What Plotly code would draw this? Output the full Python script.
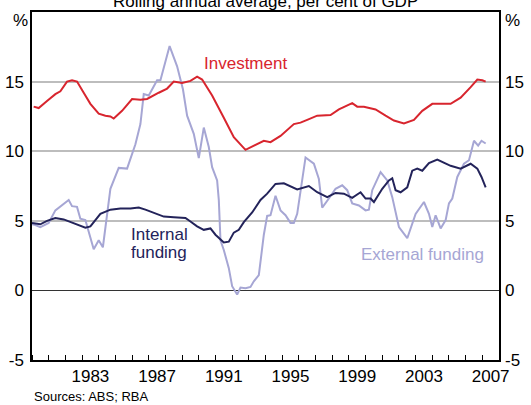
import plotly.graph_objects as go

# decimal-year positions and % of GDP
inv_dates = [1980.1, 1980.4, 1980.9, 1981.4, 1981.7, 1982.1, 1982.4, 1982.7, 1983.1, 1983.5,
             1984.0, 1984.4, 1984.7, 1984.9, 1985.4, 1986.0, 1986.5, 1986.9, 1987.6, 1988.1,
             1988.5, 1989.0, 1989.5, 1989.9, 1990.2, 1990.8, 1991.5, 1992.1, 1992.8, 1993.3,
             1993.9, 1994.3, 1994.9, 1995.7, 1996.1, 1996.5, 1997.1, 1997.9, 1998.4, 1999.2,
             1999.5, 1999.9, 2000.6, 2001.2, 2001.7, 2002.3, 2002.9, 2003.4, 2004.0, 2005.1,
             2005.7, 2006.3, 2006.7, 2007.0, 2007.2]
investment = [13.2, 13.1, 13.6, 14.1, 14.3, 15.0, 15.1, 15.0, 14.2, 13.4,
              12.7, 12.55, 12.5, 12.35, 12.9, 13.75, 13.7, 13.75, 14.2, 14.5,
              15.0, 14.9, 15.05, 15.35, 15.15, 14.0, 12.4, 11.0, 10.1, 10.4,
              10.75, 10.65, 11.1, 11.95, 12.05, 12.25, 12.55, 12.6, 13.0, 13.45,
              13.2, 13.2, 13.0, 12.55, 12.2, 12.0, 12.25, 12.9, 13.4, 13.4,
              13.85, 14.6, 15.15, 15.1, 15.0]

int_dates = [1980.0, 1980.2, 1980.5, 1980.9, 1981.4, 1981.9, 1982.5, 1983.2, 1983.5, 1984.1,
             1984.7, 1985.3, 1985.9, 1986.4, 1986.8, 1987.4, 1987.9, 1988.5, 1989.2, 1989.5,
             1989.9, 1990.3, 1990.7, 1991.0, 1991.2, 1991.5, 1991.8, 1992.1, 1992.4, 1992.7,
             1993.2, 1993.7, 1994.1, 1994.6, 1995.1, 1995.9, 1996.6, 1997.1, 1997.7, 1998.2,
             1998.7, 1999.2, 1999.7, 2000.0, 2000.3, 2000.5, 2001.0, 2001.4, 2001.6, 2001.8,
             2002.1, 2002.5, 2002.8, 2003.1, 2003.4, 2003.8, 2004.3, 2004.7, 2005.1, 2005.7,
             2006.3, 2006.7, 2006.95, 2007.2]
internal = [4.85, 4.8, 4.75, 5.0, 5.2, 5.1, 4.8, 4.5, 4.6, 5.5,
            5.8, 5.88, 5.88, 5.95, 5.8, 5.5, 5.3, 5.25, 5.2, 4.95,
            4.6, 4.35, 4.45, 4.0, 3.75, 3.45, 3.5, 4.15, 4.35, 4.9,
            5.6, 6.5, 6.95, 7.65, 7.7, 7.25, 7.5, 7.05, 6.7, 7.0,
            6.95, 6.65, 7.05, 6.6, 6.6, 6.35, 7.3, 7.9, 8.05, 7.2,
            7.05, 7.4, 8.6, 8.75, 8.6, 9.15, 9.4, 9.15, 8.95, 8.75,
            9.1, 8.75, 8.15, 7.4]

ext_dates = [1980.0, 1980.2, 1980.5, 1981.0, 1981.4, 1981.8, 1982.2, 1982.4, 1982.7, 1982.9,
             1983.2, 1983.7, 1984.0, 1984.25, 1984.7, 1985.2, 1985.7, 1986.2, 1986.5, 1986.7,
             1987.0, 1987.5, 1987.7, 1988.25, 1988.7, 1989.05, 1989.3, 1989.7, 1990.0, 1990.3,
             1990.6, 1990.8, 1991.1, 1991.2, 1991.3, 1991.5, 1991.8, 1992.0, 1992.3, 1992.5,
             1992.8, 1993.1, 1993.3, 1993.6, 1993.9, 1994.1, 1994.3, 1994.6, 1994.9, 1995.2,
             1995.5, 1995.7, 1995.9, 1996.4, 1996.9, 1997.2, 1997.4, 1997.8, 1998.2, 1998.6,
             1998.9, 1999.2, 1999.6, 2000.0, 2000.2, 2000.4, 2000.9, 2001.3, 2001.6, 2002.0,
             2002.5, 2003.0, 2003.5, 2003.8, 2004.0, 2004.2, 2004.5, 2004.8, 2005.0, 2005.2,
             2005.5, 2005.9, 2006.2, 2006.5, 2006.75, 2006.95, 2007.2]
external = [4.75, 4.7, 4.55, 4.85, 5.75, 6.1, 6.5, 6.05, 6.0, 5.15,
            5.05, 2.95, 3.6, 3.1, 7.3, 8.8, 8.75, 10.5, 11.95, 14.1,
            14.0, 15.1, 15.1, 17.55, 16.1, 14.45, 12.55, 11.25, 9.5, 11.7,
            10.3, 8.85, 7.9, 6.5, 3.6, 2.9, 1.6, 0.3, -0.3, 0.2,
            0.15, 0.25, 0.65, 1.1, 4.0, 5.35, 5.4, 6.8, 5.75, 5.4,
            4.85, 4.85, 5.5, 9.55, 9.1, 8.0, 5.95, 6.6, 7.3, 7.55,
            7.2, 6.25, 6.1, 5.75, 5.8, 7.2, 8.5, 7.9, 6.7, 4.55,
            3.75, 5.5, 6.35, 5.5, 4.55, 5.4, 4.45, 5.05, 6.25, 6.6,
            8.15, 9.1, 9.35, 10.75, 10.4, 10.75, 10.55]

year_labels = ['1983', '1987', '1991', '1995', '1999', '2003', '2007']
y_ticks = [-5, 0, 5, 10, 15]

RED = '#d8252e'
NAVY = '#23235a'
LAVENDER = '#a6a6d4'
FONT = 'Liberation Sans, Arial, sans-serif'

fig = go.Figure()
fig.add_trace(go.Scatter(x=ext_dates, y=external, mode='lines',
                         line=dict(color=LAVENDER, width=2)))
fig.add_trace(go.Scatter(x=int_dates, y=internal, mode='lines',
                         line=dict(color=NAVY, width=2)))
fig.add_trace(go.Scatter(x=inv_dates, y=investment, mode='lines',
                         line=dict(color=RED, width=2)))
# invisible copies so the right-hand and "%" axes get drawn
for ax in ['y2', 'y3']:
    fig.add_trace(go.Scatter(x=inv_dates, y=investment, yaxis=ax, mode='lines',
                             line=dict(width=0), opacity=0, hoverinfo='skip'))

fig.update_layout(
    width=531, height=405,
    margin=dict(l=32, r=32, t=12, b=45),
    plot_bgcolor='white', paper_bgcolor='white',
    showlegend=False,
    font=dict(family=FONT, size=17, color='black'),
    xaxis=dict(range=[1980, 2008], automargin=False,
               tickvals=[int(y) + 0.5 for y in year_labels], ticktext=year_labels,
               ticks='', showgrid=False, zeroline=False,
               showline=True, mirror=True, linecolor='black', linewidth=1.5,
               minor=dict(ticks='inside', ticklen=5, tickcolor='black', tickwidth=1,
                          tickmode='linear', tick0=1980, dtick=1, showgrid=False)),
    yaxis=dict(range=[-5, 20], automargin=False, ticklabelstandoff=3,
               tickvals=y_ticks, ticktext=[str(v) for v in y_ticks],
               ticks='', showgrid=True, gridcolor='#bdbdbd', gridwidth=2,
               zeroline=True, zerolinecolor='#333333', zerolinewidth=1,
               showline=True, mirror=True, linecolor='black', linewidth=1.5),
    yaxis2=dict(range=[-5, 20], overlaying='y', side='right', automargin=False,
                ticklabelstandoff=5,
                tickvals=y_ticks + [19.4], ticktext=[str(v) for v in y_ticks] + ['%'],
                ticks='', showgrid=False, zeroline=False, showline=False),
    yaxis3=dict(range=[-5, 20], overlaying='y', side='left', automargin=False,
                ticklabelstandoff=3, tickvals=[19.4], ticktext=['%'],
                ticks='', showgrid=False, zeroline=False, showline=False),
)

fig.add_annotation(text='Investment', x=1992.8, y=16.3, showarrow=False,
                   font=dict(color=RED, size=17))
fig.add_annotation(text='Internal', x=1985.8, y=4.05, xanchor='left', showarrow=False,
                   font=dict(color=NAVY, size=17))
fig.add_annotation(text='funding', x=1985.8, y=2.75, xanchor='left', showarrow=False,
                   font=dict(color=NAVY, size=17))
fig.add_annotation(text='External funding', x=2003.4, y=2.6, showarrow=False,
                   font=dict(color=LAVENDER, size=17))
fig.add_annotation(text='Rolling annual average, per cent of GDP', xref='paper', yref='paper',
                   x=0.5, y=1.0, yanchor='middle', yshift=11, showarrow=False,
                   font=dict(size=17))
fig.add_annotation(text='Sources: ABS; RBA', xref='paper', yref='paper',
                   x=0, y=-0.106, xanchor='left', yanchor='middle', showarrow=False,
                   font=dict(size=13))

# drop the browser's default 8px body margin so the figure sits at the window corner
fig.write_html('out.html', config={'displayModeBar': False},
               post_script="document.body.style.margin='0';")
